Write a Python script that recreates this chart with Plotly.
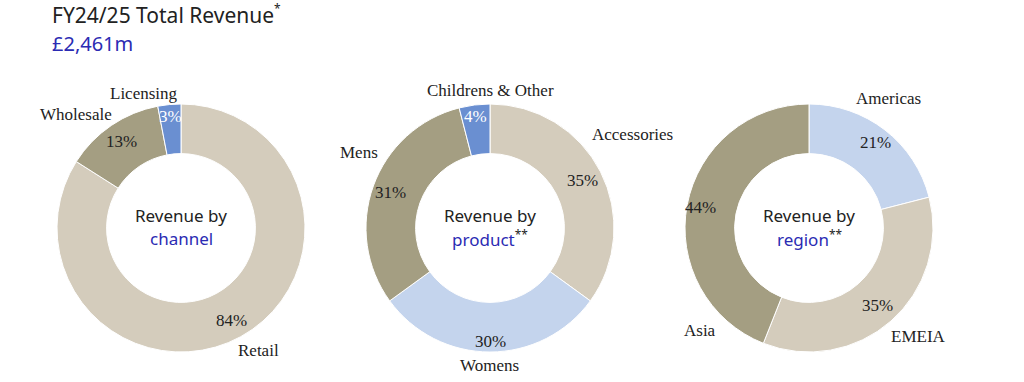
import math
import plotly.graph_objects as go

W, H = 1024, 382

# ---- data ----
channel_labels = ["Retail", "Wholesale", "Licensing"]
channel_values = [84, 13, 3]
product_labels = ["Accessories", "Womens", "Mens", "Childrens & Other"]
product_values = [35, 30, 31, 4]
region_labels = ["Americas", "EMEIA", "Asia"]
region_values = [21, 35, 44]
title_text = "FY24/25 Total Revenue"
total_text = "£2,461m"
center_words = ["channel", "product", "region"]
center_marks = ["", "**", "**"]

# ---- style ----
BEIGE = "#d4ccbc"
OLIVE = "#a49e82"
BLUE = "#6a8fd1"
LIGHTBLUE = "#c4d4ed"
NAVY = "#2b2bb3"
DARK = "#222222"
SANS = "Noto Sans"
SERIF = "Liberation Serif"

channel_colors = [BEIGE, OLIVE, BLUE]
product_colors = [BEIGE, LIGHTBLUE, OLIVE, BLUE]
region_colors = [LIGHTBLUE, BEIGE, OLIVE]

centers_px = [(181, 228), (490, 228), (809, 228)]
radius_px = 124

# label placement (pixel centres)
name_pos = [
    [(258, 350), (76, 114), (144, 93)],
    [(632, 134), (489, 365), (359, 152), (490, 91)],
    [(888, 98), (918, 336), (700, 330)],
]
# radial distance of percentage labels from donut centre
pct_radius = [[105, 105, 112], [104, 113, 106, 112], [108, 103, 110]]


def px(x, y):
    return x / W, (H - y) / H


def dom(c):
    cx, cy = c
    return dict(x=[(cx - radius_px) / W, (cx + radius_px) / W],
                y=[(H - cy - radius_px) / H, (H - cy + radius_px) / H])


def ann(x, y, text, font, **kw):
    ax, ay = px(x, y)
    fig.add_annotation(x=ax, y=ay, xref="paper", yref="paper", text=text,
                       showarrow=False, font=font,
                       xanchor=kw.pop("xanchor", "center"), yanchor="middle", **kw)


fig = go.Figure()
datasets = [
    (channel_labels, channel_values, channel_colors),
    (product_labels, product_values, product_colors),
    (region_labels, region_values, region_colors),
]
for i, (labs, vals, cols) in enumerate(datasets):
    fig.add_trace(go.Pie(
        labels=labs, values=vals, hole=0.6, sort=False,
        direction="clockwise", rotation=0,
        marker=dict(colors=cols, line=dict(color="white", width=1)),
        textinfo="none",
        hoverinfo="skip", showlegend=False, domain=dom(centers_px[i]),
    ))
    cx, cy = centers_px[i]
    ann(cx, cy - 13, "Revenue by", dict(family=SANS, size=17, color=DARK))
    mark = f"<sup>{center_marks[i]}</sup>" if center_marks[i] else ""
    ann(cx, cy + 10, f"<span style='color:{NAVY}'>{center_words[i]}</span>{mark}",
        dict(family=SANS, size=17, color=DARK))
    for lab, (lx, ly) in zip(labs, name_pos[i]):
        ann(lx, ly, lab, dict(family=SERIF, size=17, color=DARK))
    # percentage labels at the slice mid-angle
    total = sum(vals)
    cum = 0
    for v, c, r in zip(vals, cols, pct_radius[i]):
        mid = (cum + v / 2) / total * 2 * math.pi
        cum += v
        tx = cx + r * math.sin(mid)
        ty = cy - r * math.cos(mid)
        ann(tx, ty, f"{v}%", dict(family=SERIF, size=17,
                                  color="white" if c == BLUE else DARK))

ann(50, 15, title_text, dict(family=SANS, size=21, color=DARK), xanchor="left")
ann(272, 9, "*", dict(family=SANS, size=12, color=DARK), xanchor="left")
ann(50, 43, total_text, dict(family=SANS, size=20, color=NAVY), xanchor="left")

fig.update_layout(width=W, height=H, margin=dict(l=0, r=0, t=0, b=0),
                  paper_bgcolor="white", plot_bgcolor="white")

fig.write_html("out.html", config={"displayModeBar": False},
               post_script="document.body.style.margin='0px';")
